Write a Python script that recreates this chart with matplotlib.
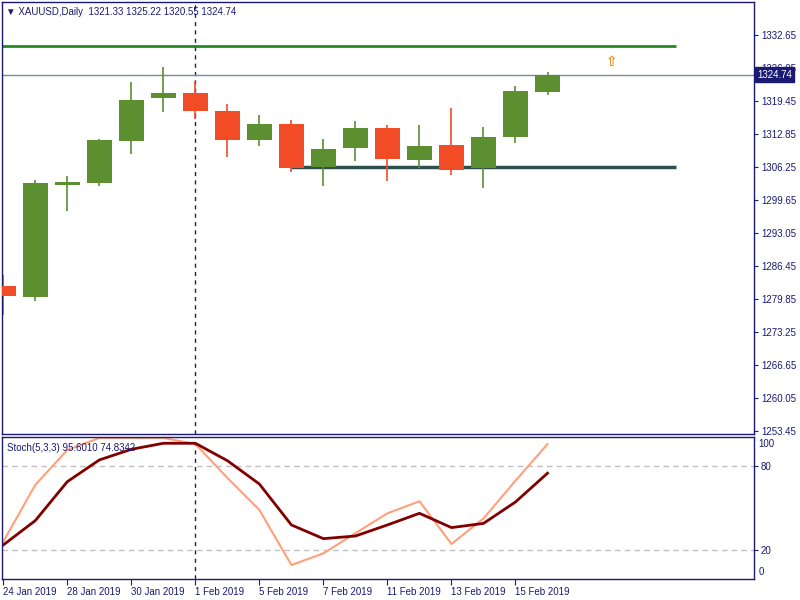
import matplotlib.pyplot as plt
from matplotlib.transforms import blended_transform_factory

plt.rcParams['font.family'] = ['Liberation Sans', 'DejaVu Sans']

# daily bars XAUUSD
dates = ['24 Jan 2019', '25 Jan 2019', '28 Jan 2019', '29 Jan 2019', '30 Jan 2019',
         '31 Jan 2019', '1 Feb 2019', '4 Feb 2019', '5 Feb 2019', '6 Feb 2019',
         '7 Feb 2019', '8 Feb 2019', '11 Feb 2019', '12 Feb 2019', '13 Feb 2019',
         '14 Feb 2019', '15 Feb 2019', '18 Feb 2019']
opens = [1282.45, 1280.25, 1302.65, 1303.05, 1311.45, 1320.05, 1321.05, 1317.45, 1311.65,
         1314.85, 1306.25, 1310.05, 1314.05, 1307.65, 1310.65, 1306.05, 1312.25, 1321.33]
highs = [1284.65, 1303.65, 1304.45, 1311.85, 1323.25, 1326.25, 1323.45, 1318.85, 1316.65,
         1315.65, 1311.85, 1315.45, 1314.65, 1314.65, 1318.05, 1314.25, 1322.45, 1325.22]
lows = [1276.65, 1279.50, 1297.45, 1302.45, 1308.85, 1317.25, 1315.85, 1308.25, 1310.45,
        1305.25, 1302.45, 1307.45, 1303.45, 1306.05, 1304.65, 1302.05, 1311.05, 1320.55]
closes = [1280.50, 1303.05, 1303.25, 1311.65, 1319.65, 1321.05, 1317.45, 1311.65, 1314.85,
          1306.05, 1309.85, 1314.05, 1307.85, 1310.45, 1305.65, 1312.25, 1321.45, 1324.74]

# Stoch(5,3,3)
stoch_main = [26.0, 66.5, 91.4, 100.0, 100.0, 100.0, 95.7, 71.5, 48.6, 9.3, 17.6, 32.0,
              46.2, 54.8, 24.3, 42.5, 69.5, 95.601]
stoch_signal = [23.6, 41.0, 68.8, 84.3, 91.9, 96.2, 96.2, 83.8, 67.1, 37.9, 28.1, 30.0,
                37.9, 46.2, 36.0, 39.0, 54.3, 74.8342]

price_ticks = [1332.65, 1326.05, 1319.45, 1312.85, 1306.25, 1299.65, 1293.05,
               1286.45, 1279.85, 1273.25, 1266.65, 1260.05, 1253.45]
upper_level = 1330.4
lower_level = 1306.3
last_price = 1324.74
arrow_bar, arrow_price = 19, 1327.3

navy = '#1a1a72'
green = '#5b8f2f'
red = '#f24c27'
fs = 7

fig = plt.figure(figsize=(8, 6), dpi=100)
ax = fig.add_axes([0.0025, 0.2767, 0.94, 0.72])
ax2 = fig.add_axes([0.0025, 0.035, 0.94, 0.2367], sharex=ax)

x = list(range(len(dates)))

# levels (behind candles)
ax.axhline(last_price, color='#7f8a99', lw=1, zorder=1)
ax.hlines(upper_level, -1, 21, color='#228b22', lw=2, zorder=1)
ax.hlines(lower_level, 9, 21, color='#2f4f4f', lw=2.5, zorder=1)

# candles
for i in x:
    col = green if closes[i] >= opens[i] else red
    ax.vlines(i, lows[i], highs[i], color=col, lw=1.2, zorder=2)
    ax.bar(i, max(abs(closes[i] - opens[i]), 0.5), bottom=min(opens[i], closes[i]),
           width=0.78, color=col, zorder=3)

ax.text(arrow_bar, arrow_price, '\u21e7', color='#e0901c', fontsize=10,
        ha='center', va='center', fontweight='bold', family='DejaVu Sans')

# month separator
for a in (ax, ax2):
    a.axvline(6, color=navy, lw=1, ls=(0, (3, 3)), zorder=0)

ax.set_xlim(-0.04, 23.45)
ax.set_ylim(1252.85, 1339.25)
ax.yaxis.tick_right()
ax.set_yticks(price_ticks)
ax.set_yticklabels(['%.2f' % t for t in price_ticks])
ax.tick_params(axis='y', colors=navy, labelsize=fs, length=3, pad=2)
ax.tick_params(axis='x', bottom=False, labelbottom=False)

tr = blended_transform_factory(ax.transAxes, ax.transData)
ax.text(1.004, last_price, '%.2f' % last_price, transform=tr, color='white', fontsize=fs,
        va='center', ha='left', zorder=10,
        bbox=dict(boxstyle='square,pad=0.25', fc=navy, ec=navy))

ax.text(0.005, 0.988, '\u25bc XAUUSD,Daily  1321.33 1325.22 1320.55 1324.74',
        transform=ax.transAxes, color=navy, fontsize=fs, va='top', ha='left')

# stochastic panel
ax2.axhline(80, color='#c0c0c0', lw=1, ls=(0, (4, 3)))
ax2.axhline(20, color='#c0c0c0', lw=1, ls=(0, (4, 3)))
ax2.plot(x, stoch_main, color='#ffa07a', lw=1.5)
ax2.plot(x, stoch_signal, color='#800000', lw=2)
ax2.set_ylim(-0.7, 100.7)
ax2.yaxis.tick_right()
ax2.set_yticks([80, 20])
ax2.set_yticklabels(['80', '20'])
ax2.tick_params(axis='y', colors=navy, labelsize=fs, length=3, pad=2)
tr2 = blended_transform_factory(ax2.transAxes, ax2.transData)
ax2.text(1.006, 96, '100', transform=tr2, color=navy, fontsize=fs, va='center')
ax2.text(1.006, 4, '0', transform=tr2, color=navy, fontsize=fs, va='center')
ax2.text(0.006, 0.96, 'Stoch(5,3,3) 95.6010 74.8342', transform=ax2.transAxes,
         color=navy, fontsize=fs, va='top', ha='left')

ax2.set_xticks(x[::2])
ax2.set_xticklabels(dates[::2], ha='left')
ax2.tick_params(axis='x', colors=navy, labelsize=fs, length=4, pad=2)

for a in (ax, ax2):
    for s in a.spines.values():
        s.set_color(navy)
        s.set_linewidth(1)

fig.savefig('out.png', dpi=100)
